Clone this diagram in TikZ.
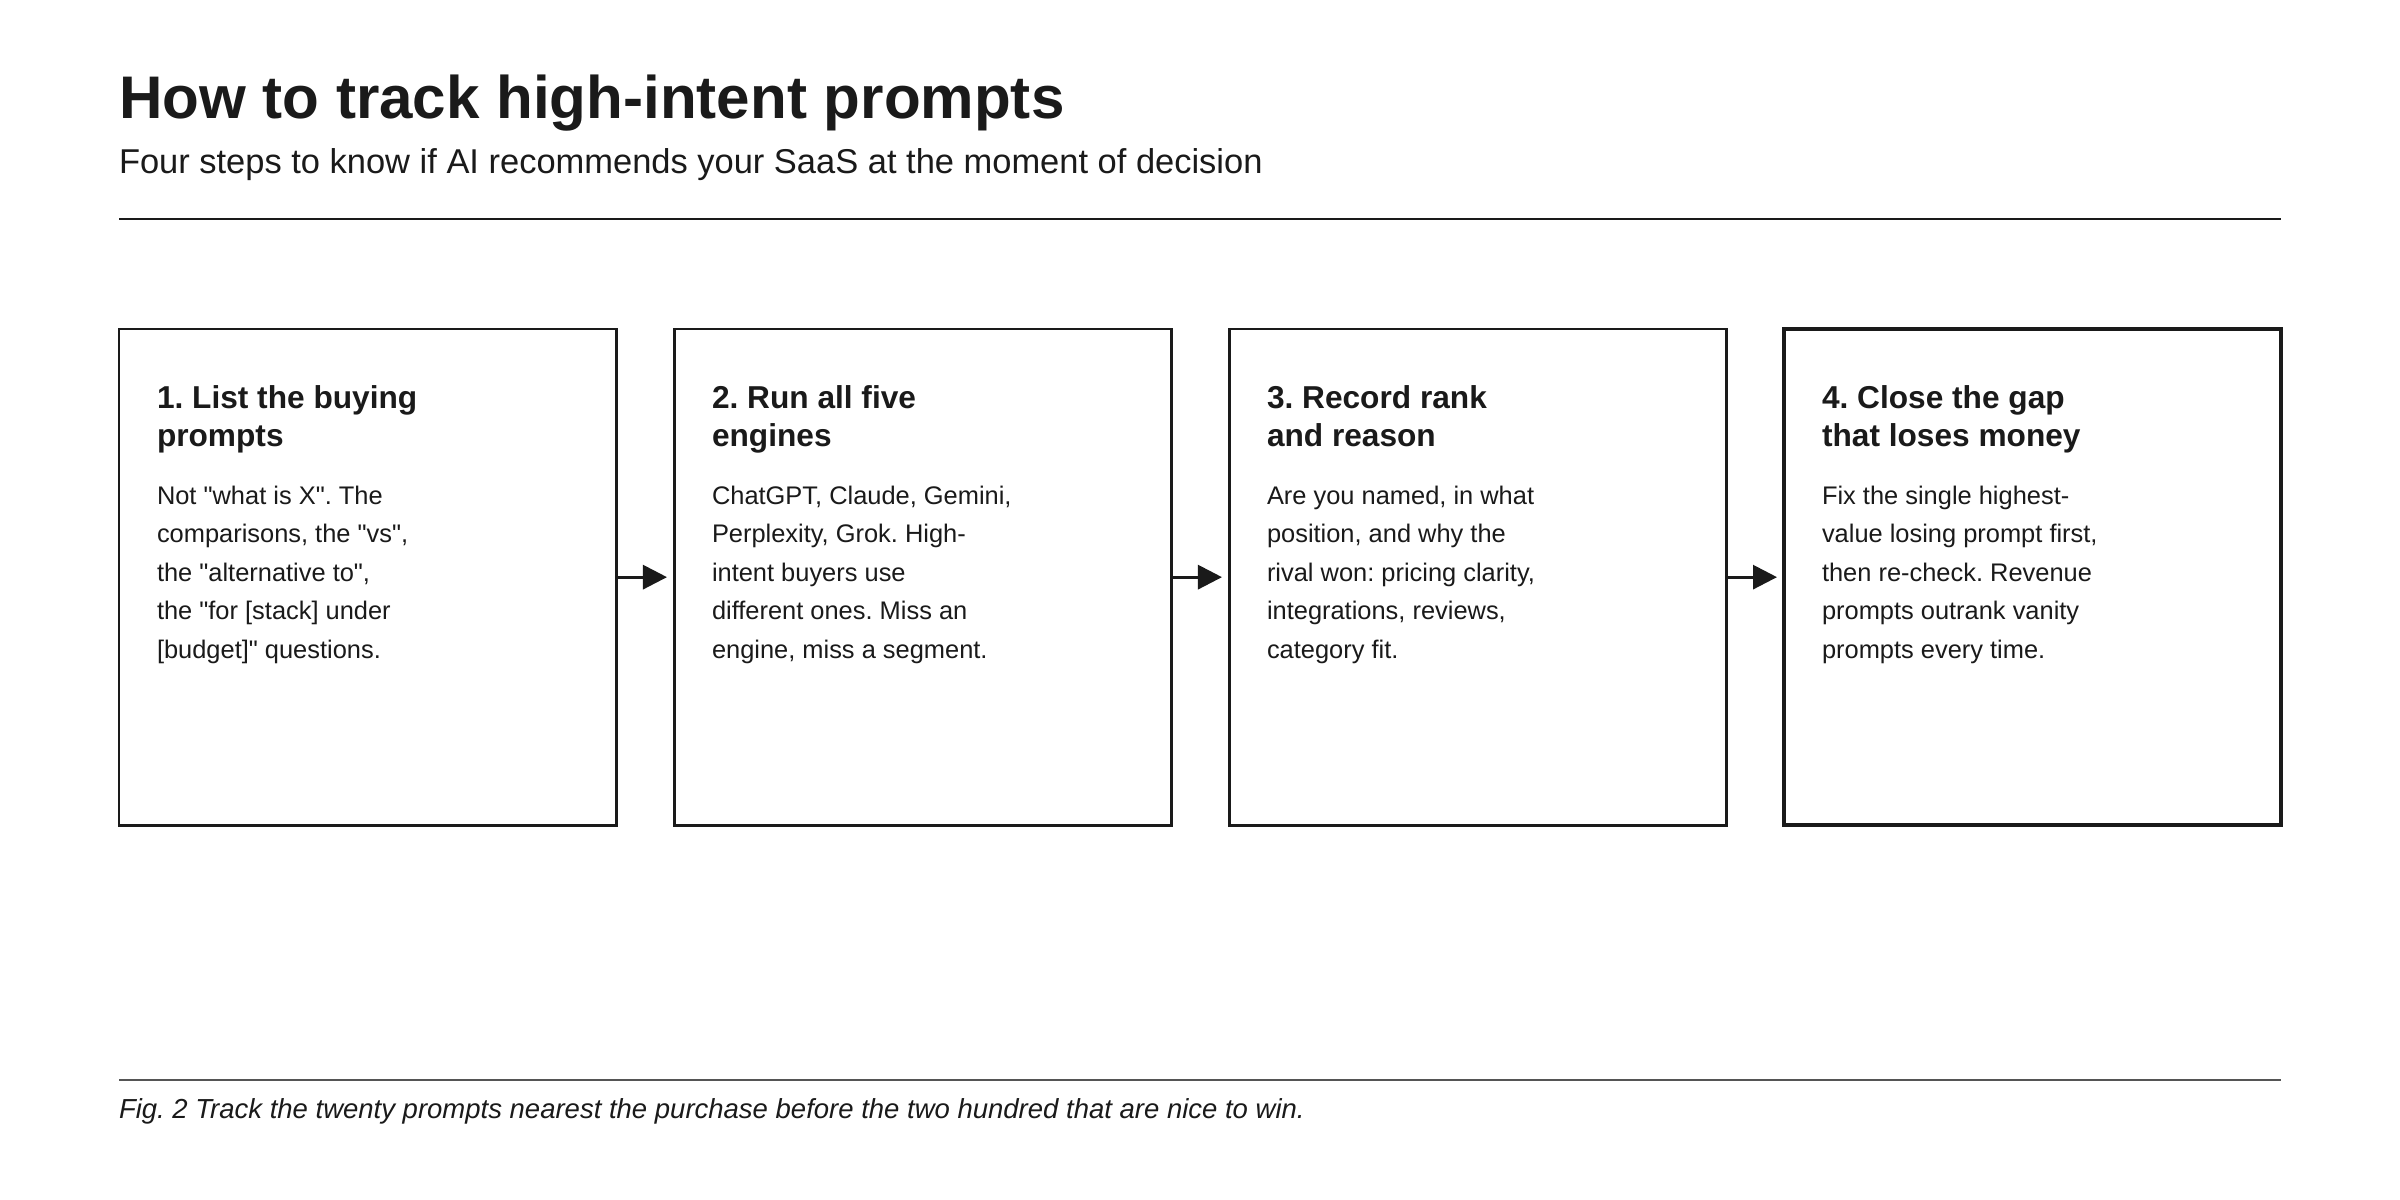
\documentclass[tikz,border=0pt]{standalone}
\usepackage{fontspec}
\setmainfont{Liberation Sans}
\usetikzlibrary{arrows.meta}
\definecolor{ink}{HTML}{1A1A1A}
\definecolor{rulegray}{HTML}{555555}
\newcommand\mylines[1]{\begin{tabular}[t]{@{}l@{}}#1\end{tabular}}
\newcommand\qq{\textquotedbl}
\frenchspacing
\begin{document}
\begin{tikzpicture}[x=0.01cm,y=-0.01cm,
  every node/.style={text=ink,inner sep=0pt,outer sep=0pt},
  stepbox/.style={draw=ink,line width=0.85pt,minimum width=4.97cm,minimum height=4.96cm,anchor=north west},
  lastbox/.style={stepbox,line width=1.1pt},
  steptitle/.style={anchor=base west,font=\frenchspacing\fontsize{9.0pt}{10.95pt}\selectfont\bfseries},
  stepbody/.style={anchor=base west,font=\frenchspacing\fontsize{7.23pt}{10.98pt}\selectfont},
  flow/.style={draw=ink,line width=0.85pt,-{Triangle[length=0.24cm,width=0.24cm]},shorten >=0.07cm}
]
\useasboundingbox[fill=white] (0,0) rectangle (2400,1200);

% header
\node[anchor=base west,font=\fontsize{17.1pt}{20pt}\selectfont\bfseries] (title) at (119,118) {How to track high-intent prompts};
\node[anchor=base west,font=\fontsize{9.8pt}{12pt}\selectfont] (subtitle) at (119,173) {Four steps to know if AI recommends your SaaS at the moment of decision};
\draw[ink,line width=0.85pt] (119,219) -- (2281,219);

% boxes
\node[stepbox] (b1) at (119,329) {};
\node[stepbox] (b2) at (674,329) {};
\node[stepbox] (b3) at (1229,329) {};
\node[lastbox] (b4) at (1784,329) {};

% box texts
\node[steptitle] (t1) at (157,408) {\mylines{1. List the buying\\prompts}};
\node[stepbody] (d1) at (157,504) {\mylines{Not \qq what is X\qq. The\\comparisons, the \qq vs\qq,\\the \qq alternative to\qq,\\the \qq for [stack] under\\{}[budget]\qq\ questions.}};

\node[steptitle] (t2) at (712,408) {\mylines{2. Run all five\\engines}};
\node[stepbody] (d2) at (712,504) {\mylines{ChatGPT, Claude, Gemini,\\Perplexity, Grok. High-\\intent buyers use\\different ones. Miss an\\engine, miss a segment.}};

\node[steptitle] (t3) at (1267,408) {\mylines{3. Record rank\\and reason}};
\node[stepbody] (d3) at (1267,504) {\mylines{Are you named, in what\\position, and why the\\rival won: pricing clarity,\\integrations, reviews,\\category fit.}};

\node[steptitle] (t4) at (1822,408) {\mylines{4. Close the gap\\that loses money}};
\node[stepbody] (d4) at (1822,504) {\mylines{Fix the single highest-\\value losing prompt first,\\then re-check. Revenue\\prompts outrank vanity\\prompts every time.}};

% connectors
\draw[flow] (b1.east) -- (b2.west);
\draw[flow] (b2.east) -- (b3.west);
\draw[flow] (b3.east) -- (b4.west);

% footer
\draw[rulegray,line width=0.57pt] (119,1080) -- (2281,1080);
\node[anchor=base west,font=\frenchspacing\fontsize{7.82pt}{10pt}\selectfont\itshape] (caption) at (119,1118) {Fig. 2 Track the twenty prompts nearest the purchase before the two hundred that are nice to win.};
\end{tikzpicture}
\end{document}
